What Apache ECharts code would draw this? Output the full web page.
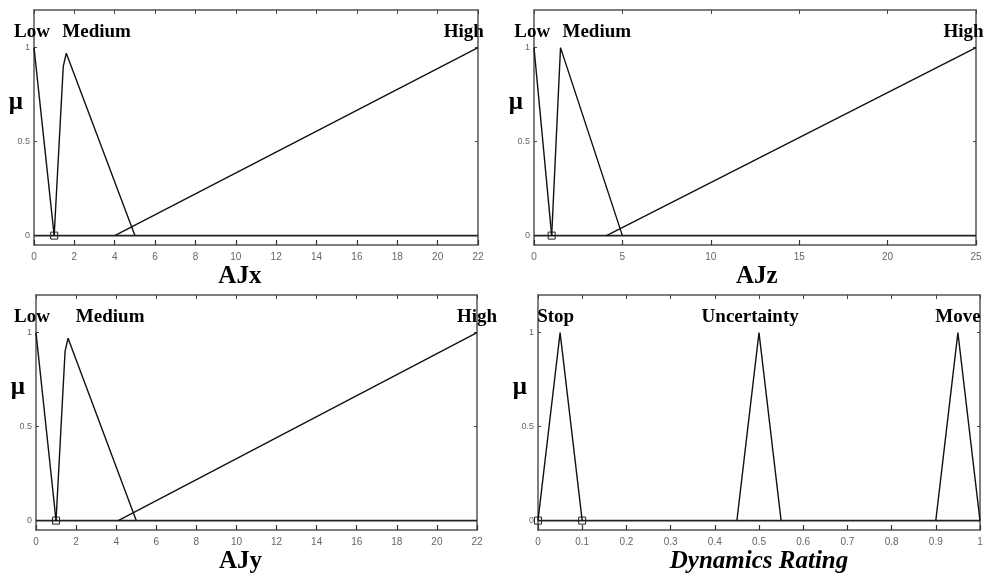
<!DOCTYPE html>
<html>
<head>
<meta charset="utf-8">
<script src="https://cdn.jsdelivr.net/npm/echarts@6/dist/echarts.min.js"></script>
<style>html,body{margin:0;padding:0;background:#fff}#c{width:988px;height:576px}</style>
</head>
<body>
<div id="c"></div>
<script>
// ---- data ----
const panelTitles = ['AJx', 'AJz', 'AJy', 'Dynamics Rating'];
const titleX = [10.2, 12.6, 10.2, 0.5];
const xMins = [0, 0, 0, 0];
const xMaxs = [22, 25, 22, 1];
const xIntervals = [2, 5, 2, 0.1];
const yTickValues = [0, 0.5, 1];
const muLabelY = 0.71;

// membership functions (x, mu)
const ajxLow = [[0, 1], [1, 0]];
const ajxMedium = [[1, 0], [1.45, 0.9], [1.6, 0.97], [5, 0]];
const ajxHigh = [[4, 0], [22, 1]];
const ajxZero = [[0, 0], [22, 0]];
const ajxMarks = [[1, 0]];
const ajxTerms = ['Low', 'Medium', 'High'];
const ajxTermX = [-0.1, 3.1, 21.3];

const ajzLow = [[0, 1], [1, 0]];
const ajzMedium = [[1, 0], [1.5, 1], [5, 0]];
const ajzHigh = [[4.1, 0], [25, 1]];
const ajzZero = [[0, 0], [25, 0]];
const ajzMarks = [[1, 0]];
const ajzTerms = ['Low', 'Medium', 'High'];
const ajzTermX = [-0.1, 3.55, 24.3];

const ajyLow = [[0, 1], [1, 0]];
const ajyMedium = [[1, 0], [1.45, 0.9], [1.6, 0.97], [5, 0]];
const ajyHigh = [[4.1, 0], [22, 1]];
const ajyZero = [[0, 0], [22, 0]];
const ajyMarks = [[1, 0]];
const ajyTerms = ['Low', 'Medium', 'High'];
const ajyTermX = [-0.2, 3.7, 22];

const drStop = [[0, 0], [0.05, 1], [0.1, 0]];
const drUncertainty = [[0.45, 0], [0.5, 1], [0.55, 0]];
const drMove = [[0.9, 0], [0.95, 1], [1, 0]];
const drZero = [[0, 0], [1, 0]];
const drMarks = [[0, 0], [0.1, 0]];
const drTerms = ['Stop', 'Uncertainty', 'Move'];
const drTermX = [0.04, 0.48, 0.95];

const termLabelY = 1.085;

const panels = [
  { curves: [ajxLow, ajxMedium, ajxHigh], zero: ajxZero, marks: ajxMarks, terms: ajxTerms, termX: ajxTermX },
  { curves: [ajzLow, ajzMedium, ajzHigh], zero: ajzZero, marks: ajzMarks, terms: ajzTerms, termX: ajzTermX },
  { curves: [ajyLow, ajyMedium, ajyHigh], zero: ajyZero, marks: ajyMarks, terms: ajyTerms, termX: ajyTermX },
  { curves: [drStop, drUncertainty, drMove], zero: drZero, marks: drMarks, terms: drTerms, termX: drTermX }
];

// ---- layout ----
const grids = [
  { left: 34, right: 510, top: 10, height: 235 },
  { left: 534, right: 12, top: 10, height: 235 },
  { left: 36, right: 511, top: 295, height: 235 },
  { left: 538, right: 8, top: 295, height: 235 }
];

const boxColor = '#555';
const serif = 'Liberation Serif';
const xAxis = [], yAxis = [], series = [];

panels.forEach((p, i) => {
  xAxis.push({
    type: 'value', gridIndex: i, position: 'bottom',
    min: xMins[i], max: xMaxs[i], interval: xIntervals[i],
    axisLine: { onZero: false, lineStyle: { color: boxColor, width: 1.5 } },
    axisTick: { inside: true, length: 5, lineStyle: { color: '#333', width: 1.2 } },
    axisLabel: { color: '#666', fontSize: 10, fontFamily: 'Liberation Sans', margin: 7 },
    splitLine: { show: false }
  });
  xAxis.push({
    type: 'value', gridIndex: i, position: 'top',
    min: xMins[i], max: xMaxs[i], interval: xIntervals[i],
    axisLine: { onZero: false, lineStyle: { color: boxColor, width: 1.5 } },
    axisTick: { inside: true, length: 4, lineStyle: { color: '#444', width: 1 } },
    axisLabel: { show: false }, splitLine: { show: false }
  });
  yAxis.push({
    type: 'value', gridIndex: i, position: 'left', min: -0.05, max: 1.2,
    axisLine: { onZero: false, lineStyle: { color: boxColor, width: 1.5 } },
    axisTick: { inside: true, length: 3, customValues: yTickValues, lineStyle: { color: '#444' } },
    axisLabel: { customValues: yTickValues, color: '#666', fontSize: 9, fontFamily: 'Liberation Sans', margin: 4 },
    splitLine: { show: false }
  });
  yAxis.push({
    type: 'value', gridIndex: i, position: 'right', min: -0.05, max: 1.2,
    axisLine: { onZero: false, lineStyle: { color: boxColor, width: 1.5 } },
    axisTick: { inside: true, length: 3, customValues: yTickValues, lineStyle: { color: '#444' } },
    axisLabel: { show: false }, splitLine: { show: false }
  });
  const xi = i * 2, yi = i * 2;
  series.push({
    type: 'line', xAxisIndex: xi, yAxisIndex: yi, data: p.zero, symbol: 'none',
    lineStyle: { color: '#222', width: 1.8 }, silent: true
  });
  p.curves.forEach(c => series.push({
    type: 'line', xAxisIndex: xi, yAxisIndex: yi, data: c, symbol: 'none',
    lineStyle: { color: '#111', width: 1.4 }, silent: true
  }));
  series.push({
    type: 'scatter', xAxisIndex: xi, yAxisIndex: yi, data: p.marks,
    symbol: 'rect', symbolSize: 7,
    itemStyle: { color: 'rgba(255,255,255,0)', borderColor: '#222', borderWidth: 1, opacity: 1 }
  });
  const textBase = { show: true, fontFamily: serif, fontWeight: 'bold', color: '#000', textBorderWidth: 0, opacity: 1 };
  // term labels
  series.push({
    type: 'scatter', xAxisIndex: xi, yAxisIndex: yi, symbolSize: 0, clip: false,
    itemStyle: { opacity: 1 },
    data: p.terms.map((t, k) => ({ name: t, value: [p.termX[k], termLabelY] })),
    label: Object.assign({}, textBase, { position: 'inside', formatter: '{b}', fontSize: 19 })
  });
  // mu label
  series.push({
    type: 'scatter', xAxisIndex: xi, yAxisIndex: yi, symbolSize: 0, clip: false,
    itemStyle: { opacity: 1 },
    data: [{ name: 'μ', value: [xMins[i], muLabelY] }],
    label: Object.assign({}, textBase, { position: 'left', distance: 11, formatter: '{b}', fontSize: 25 })
  });
  // axis title
  series.push({
    type: 'scatter', xAxisIndex: xi, yAxisIndex: yi, symbolSize: 0, clip: false,
    itemStyle: { opacity: 1 },
    data: [{ name: panelTitles[i], value: [titleX[i], -0.05] }],
    label: Object.assign({}, textBase, { position: 'bottom', distance: 19, formatter: '{b}', fontSize: 25, fontStyle: i === 3 ? 'italic' : 'normal' })
  });
});

const chart = echarts.init(document.getElementById('c'), null, { renderer: 'canvas' });
chart.setOption({ animation: false, grid: grids, xAxis, yAxis, series });
</script>
</body>
</html>
